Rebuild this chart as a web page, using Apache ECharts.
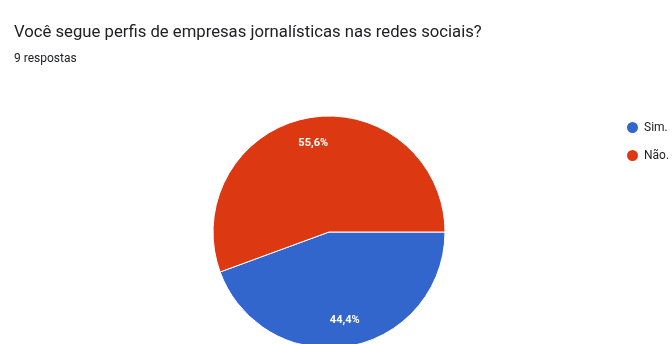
<!DOCTYPE html>
<html>
<head>
<meta charset="utf-8">
<script src="https://cdn.jsdelivr.net/npm/echarts@6/dist/echarts.min.js"></script>
<style>
  html, body { margin: 0; padding: 0; background: #fff; }
  #chart { width: 672px; height: 344px; }
</style>
</head>
<body>
<div id="chart"></div>
<script>
// Survey answers: share of respondents per option
const categories = ['Sim.', 'Não.'];
const values = [44.4, 55.6];
const colors = ['#3366CC', '#DC3912'];
const titleText = 'Você segue perfis de empresas jornalísticas nas redes sociais?';
const subtitleText = '9 respostas';

const data = categories.map((name, i) => ({ name, value: values[i] }));
const fmt = v => v.toFixed(1).replace('.', ',') + '%';

const chart = echarts.init(document.getElementById('chart'), null, { renderer: 'canvas' });
chart.setOption({
  animation: false,
  color: colors,
  title: {
    text: titleText,
    subtext: subtitleText,
    left: 9,
    top: 19,
    itemGap: 12,
    textStyle: { fontFamily: 'Roboto', fontSize: 16.7, fontWeight: 'normal', color: '#202124' },
    subtextStyle: { fontFamily: 'Roboto', fontSize: 12, color: '#202124' }
  },
  legend: {
    orient: 'vertical',
    left: 620,
    top: 115,
    icon: 'circle',
    itemWidth: 13,
    itemHeight: 13,
    itemGap: 13,
    textStyle: { fontFamily: 'Roboto', fontSize: 12, color: '#222' },
    data: categories
  },
  series: [
    {
      type: 'pie',
      center: [329, 232],
      radius: [0, 116],
      startAngle: 0,
      clockwise: true,
      label: { show: false },
      labelLine: { show: false },
      itemStyle: { borderColor: '#fff', borderWidth: 1 },
      emphasis: { disabled: true },
      data: data
    },
    {
      // label ring: places percentages at ~0.75 of the radius
      type: 'pie',
      center: [329, 232],
      radius: [58, 116],
      startAngle: 0,
      clockwise: true,
      silent: true,
      legendHoverLink: false,
      itemStyle: { color: 'transparent', borderWidth: 0 },
      label: {
        show: true,
        position: 'inside',
        formatter: p => fmt(p.value),
        fontFamily: 'Roboto',
        fontSize: 11,
        fontWeight: 'bold',
        color: '#fff'
      },
      labelLine: { show: false },
      emphasis: { disabled: true },
      data: data
    }
  ]
});
</script>
</body>
</html>
